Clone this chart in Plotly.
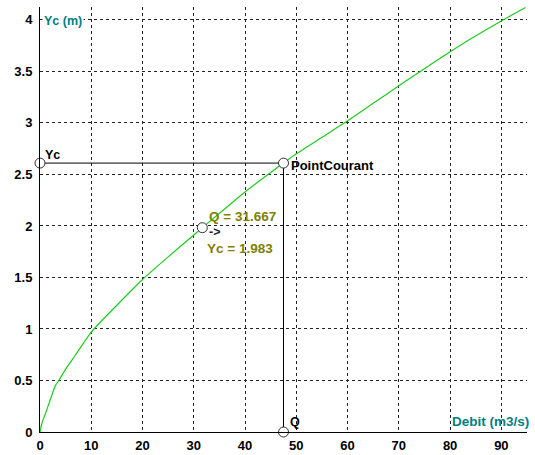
import plotly.graph_objects as go

# Critical depth curve Yc(Q)
debit = [0, 0.4, 1.07, 2.05, 3.0, 3.67, 5, 6.9, 10, 15, 20, 25, 31.667, 40, 47.5,
         50, 55, 60, 65, 70, 73.9, 80, 83.8, 90, 94.7]
yc = [0, 0.09, 0.18, 0.32, 0.45, 0.5, 0.61, 0.745, 0.97, 1.23, 1.48, 1.70, 1.983, 2.33, 2.61,
      2.70, 2.86, 3.02, 3.19, 3.36, 3.49, 3.69, 3.81, 3.99, 4.12]

# Current point and probe point
courant_q = 47.5
courant_yc = 2.61
probe_q = 31.667
probe_yc = 1.983

x_ticks = [0, 10, 20, 30, 40, 50, 60, 70, 80, 90]
y_ticks = [0, 0.5, 1, 1.5, 2, 2.5, 3, 3.5, 4]
y_tick_text = ["0", "0.5", "1", "1.5", "2", "2.5", "3", "3.5", "4"]

FONT = "Liberation Sans"
TEAL = "#008080"
OLIVE = "#808000"

fig = go.Figure()

fig.add_trace(go.Scatter(
    x=debit, y=yc, mode="lines",
    line=dict(color="#1ccc1c", width=1.2, shape="spline", smoothing=0.6),
    hoverinfo="skip", showlegend=False,
))

# Projection lines from the current point onto both axes
fig.add_trace(go.Scatter(
    x=[0, courant_q, courant_q], y=[courant_yc, courant_yc, 0],
    mode="lines", line=dict(color="black", width=1),
    hoverinfo="skip", showlegend=False, cliponaxis=False,
))

# Open circle markers
fig.add_trace(go.Scatter(
    x=[0, courant_q, courant_q, probe_q],
    y=[courant_yc, courant_yc, 0, probe_yc],
    mode="markers",
    marker=dict(symbol="circle", size=10, color="white",
                line=dict(color="#333333", width=1)),
    hoverinfo="skip", showlegend=False, cliponaxis=False,
))

ann = []
def label(x, y, text, color, xs, ys, size=12.5):
    ann.append(dict(x=x, y=y, xref="x", yref="y", text=text, showarrow=False,
                    xanchor="left", yanchor="middle", xshift=xs, yshift=ys,
                    font=dict(family=FONT, size=size, color=color, weight="bold")))

label(0, courant_yc, "Yc", "black", 3, 8, 12.5)
label(courant_q, courant_yc, "PointCourant", "black", 5, -2, 13)
label(courant_q, 0, "Q", "black", 4, 10, 12.5)
label(probe_q, probe_yc, "->", "#222222", 5, -4, 12.5)
label(probe_q, probe_yc, "Q = 31.667", OLIVE, 5, 11, 13.5)
label(probe_q, probe_yc, "Yc = 1.983", OLIVE, 3, -21, 13.5)

# Axis titles
ann.append(dict(x=0, y=4, xref="x", yref="y", text="Yc (m)", showarrow=False,
                xanchor="left", yanchor="middle", xshift=2, yshift=-1,
                bgcolor="white",
                font=dict(family=FONT, size=12.5, color=TEAL, weight="bold")))
ann.append(dict(x=95, y=0, xref="x", yref="y", text="Debit (m3/s)", showarrow=False,
                xanchor="right", yanchor="bottom", xshift=4, yshift=1,
                font=dict(family=FONT, size=13.5, color=TEAL, weight="bold")))

grid = dict(showgrid=True, gridcolor="#222222", gridwidth=1, griddash="3px,3px",
            zeroline=False, showline=True, linecolor="black", linewidth=1,
            ticks="", automargin=False,
            tickfont=dict(family=FONT, size=13, color="black", weight="bold"))

fig.update_layout(
    width=535, height=455,
    margin=dict(l=40, r=8, t=7, b=23),
    paper_bgcolor="white", plot_bgcolor="white",
    xaxis=dict(range=[0, 95], tickvals=x_ticks, ticklabelstandoff=1, **grid),
    yaxis=dict(range=[0, 4.125], tickvals=y_ticks, ticktext=y_tick_text,
               ticklabelstandoff=4, **grid),
    annotations=ann,
)

fig.write_html("out.html")
